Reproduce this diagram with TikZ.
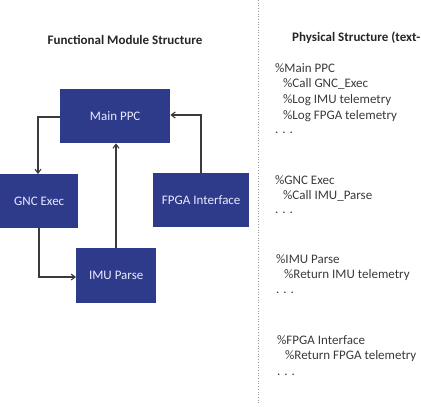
\documentclass[tikz,border=0pt]{standalone}
\usepackage{fontspec}
\setmainfont{Carlito}
\usetikzlibrary{arrows.meta}
\definecolor{boxblue}{HTML}{2E3A8A}
\definecolor{linegray}{HTML}{3A3A3A}
\definecolor{txtgray}{HTML}{3A3A3A}
\tikzset{
  module/.style={draw=none, fill=boxblue, text=white!92!blue, font=\fontsize{13}{15}\selectfont, inner sep=0pt, anchor=north west},
  conn/.style={draw=linegray, line width=1.1pt, -{Straight Barb[length=4pt,width=6pt]}},
  code/.style={anchor=west, text=txtgray, font=\fontsize{13}{15}\selectfont, inner sep=0pt},
  heading/.style={font=\bfseries\fontsize{13}{15}\selectfont, text=black!85, inner sep=0pt}
}
\begin{document}
\begin{tikzpicture}[x=1pt,y=-1pt]
\useasboundingbox (0,0) rectangle (421,407);
% title
\node[heading] (t1) at (125,40) {Functional Module Structure};
\node[heading, anchor=west] (t2) at (292,38) {Physical Structure (text-};
% boxes
\node[module, minimum width=110pt, minimum height=54pt] (main) at (60,89) {Main PPC};
\node[module, minimum width=78pt, minimum height=54pt] (gnc) at (0,174) {GNC Exec};
\node[module, minimum width=96pt, minimum height=54pt] (fpga) at (153,173) {FPGA Interface};
\node[module, minimum width=80pt, minimum height=55pt] (imu) at (76,248) {IMU Parse};
% connectors
\draw[conn] (main.west |- 0,117) -| (gnc.north -| 38,0);
\draw[conn] (fpga.north -| 201,0) |- (main.east |- 0,115);
\draw[conn] (imu.north -| 116,0) -- (main.south -| 116,0);
\draw[conn] (gnc.south -| 39,0) |- (imu.west |- 0,277);
% divider
\coordinate (d1) at (258,0);
\coordinate (d2) at (258,404);
\draw[black!40, line width=0.7pt, dotted] (d1) -- (d2);
% code text
\node[code] (c1) at (275,68) {\%Main PPC};
\node[code] (c2) at (283,84) {\%Call GNC\_Exec};
\node[code] (c3) at (283,100) {\%Log IMU telemetry};
\node[code] (c4) at (283,116) {\%Log FPGA telemetry};
\node[code] (c5) at (275,133) {. . .};
\node[code] (c6) at (275,180) {\%GNC Exec};
\node[code] (c7) at (283,196) {\%Call IMU\_Parse};
\node[code] (c8) at (275,213) {. . .};
\node[code] (c9) at (276,259) {\%IMU Parse};
\node[code] (c10) at (284,275) {\%Return IMU telemetry};
\node[code] (c11) at (276,293) {. . .};
\node[code] (c12) at (277,340) {\%FPGA Interface};
\node[code] (c13) at (285,356) {\%Return FPGA telemetry};
\node[code] (c14) at (277,375) {. . .};
\end{tikzpicture}
\end{document}
